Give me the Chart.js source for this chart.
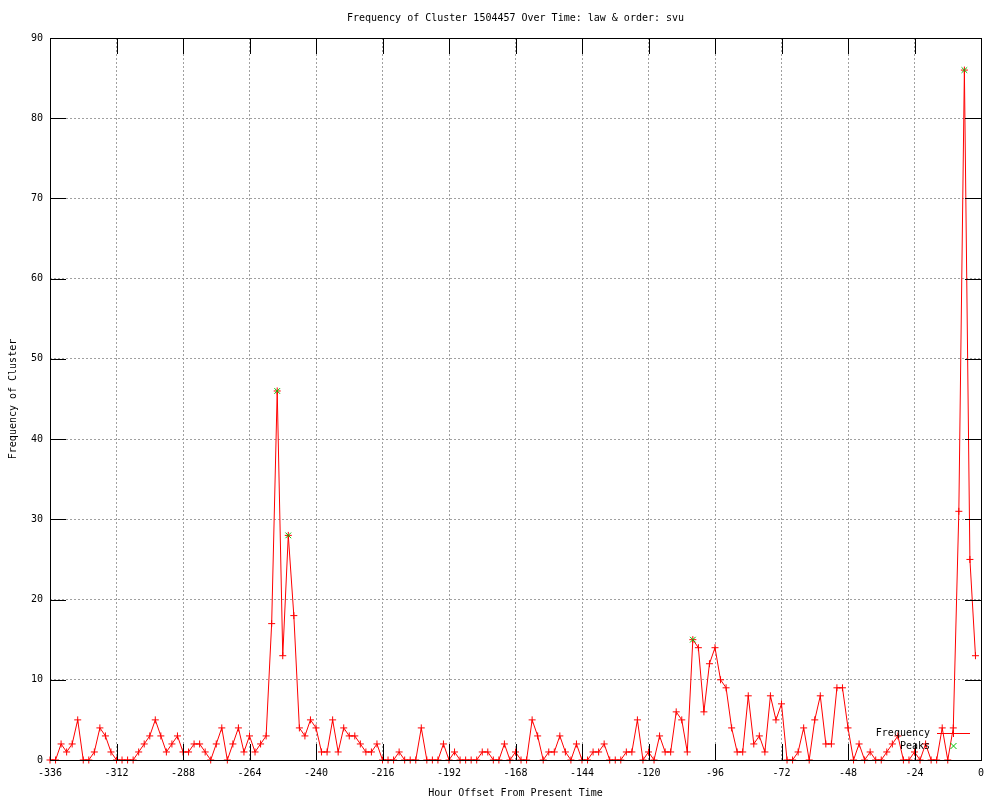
<!DOCTYPE html>
<html>
<head>
<meta charset="utf-8">
<script src="https://cdn.jsdelivr.net/npm/chart.js@4"></script>
<style>
html,body{margin:0;padding:0;background:#fff}
</style>
</head>
<body>
<canvas id="chart" width="1000" height="800"></canvas>
<script>
const titulo="Frequency of Cluster 1504457 Over Time: law & order: svu"
const ejeX="Hour Offset From Present Time"
const ejeY="Frequency of Cluster"

// hour offsets, one sample every 2 hours
const horas=[
-336,-334,-332,-330,-328,-326,-324,-322,-320,-318,-316,-314,-312,-310,-308,-306,-304,-302,-300,-298,
-296,-294,-292,-290,-288,-286,-284,-282,-280,-278,-276,-274,-272,-270,-268,-266,-264,-262,-260,-258,
-256,-254,-252,-250,-248,-246,-244,-242,-240,-238,-236,-234,-232,-230,-228,-226,-224,-222,-220,-218,
-216,-214,-212,-210,-208,-206,-204,-202,-200,-198,-196,-194,-192,-190,-188,-186,-184,-182,-180,-178,
-176,-174,-172,-170,-168,-166,-164,-162,-160,-158,-156,-154,-152,-150,-148,-146,-144,-142,-140,-138,
-136,-134,-132,-130,-128,-126,-124,-122,-120,-118,-116,-114,-112,-110,-108,-106,-104,-102,-100,-98,
-96,-94,-92,-90,-88,-86,-84,-82,-80,-78,-76,-74,-72,-70,-68,-66,-64,-62,-60,-58,
-56,-54,-52,-50,-48,-46,-44,-42,-40,-38,-36,-34,-32,-30,-28,-26,-24,-22,-20,-18,
-16,-14,-12,-10,-8,-6,-4,-2
]

const frecuencia=[
0,0,2,1,2,5,0,0,1,4,3,1,0,0,0,0,1,2,3,5,
3,1,2,3,1,1,2,2,1,0,2,4,0,2,4,1,3,1,2,3,
17,46,13,28,18,4,3,5,4,1,1,5,1,4,3,3,2,1,1,2,
0,0,0,1,0,0,0,4,0,0,0,2,0,1,0,0,0,0,1,1,
0,0,2,0,1,0,0,5,3,0,1,1,3,1,0,2,0,0,1,1,
2,0,0,0,1,1,5,0,1,0,3,1,1,6,5,1,15,14,6,12,
14,10,9,4,1,1,8,2,3,1,8,5,7,0,0,1,4,0,5,8,
2,2,9,9,4,0,2,0,1,0,0,1,2,3,0,0,1,0,2,0,
0,4,0,4,31,86,25,13
]

const picosHoras=[-254,-250,-104,-6]
const picosValores=[46,28,15,86]

const ticksX=[-336,-312,-288,-264,-240,-216,-192,-168,-144,-120,-96,-72,-48,-24,0]
const ticksY=[0,10,20,30,40,50,60,70,80,90]

const fuente="DejaVu Sans Mono"
const rojo="#ff0000"
const verde="#00c000"

const marco={
id:"marco",
afterDatasetsDraw(chart){
const c=chart.ctx
const a=chart.chartArea
const sx=chart.scales.x, sy=chart.scales.y
c.save()
c.strokeStyle="#000"
c.lineWidth=1
c.beginPath()
ticksX.forEach(v=>{
let px=Math.round(sx.getPixelForValue(v))+0.5
c.moveTo(px,a.bottom); c.lineTo(px,a.bottom-16)
c.moveTo(px,a.top); c.lineTo(px,a.top+16)
})
ticksY.forEach(v=>{
let py=Math.round(sy.getPixelForValue(v))+0.5
c.moveTo(a.left,py); c.lineTo(a.left+16,py)
c.moveTo(a.right,py); c.lineTo(a.right-16,py)
})
c.stroke()
c.strokeRect(Math.round(a.left)+0.5,Math.round(a.top)+0.5,Math.round(a.right-a.left),Math.round(a.bottom-a.top))

// title
c.fillStyle="#000"
c.font="10px '"+fuente+"'"
c.textAlign="center"
c.textBaseline="middle"
c.fillText(titulo,(a.left+a.right)/2,18)

// legend, inside bottom right
c.textAlign="right"
c.fillText("Frequency",930,733)
c.fillText("Peaks",930,746)
c.strokeStyle=rojo
c.beginPath()
c.moveTo(937,733.5); c.lineTo(970,733.5)
c.moveTo(953.5,730); c.lineTo(953.5,737)
c.stroke()
c.strokeStyle=verde
c.beginPath()
c.moveTo(950.5,743); c.lineTo(956.5,749)
c.moveTo(956.5,743); c.lineTo(950.5,749)
c.stroke()
c.restore()
}
}

new Chart(document.getElementById("chart"),{
type:"line",
data:{
datasets:[{
label:"Frequency",
data:horas.map((h,i)=>({x:h,y:frecuencia[i]})),
borderColor:rojo,
borderWidth:1,
pointStyle:"cross",
pointRadius:3.5,
pointBorderColor:rojo,
pointBorderWidth:1,
tension:0,
clip:false,
order:2
},{
label:"Peaks",
data:picosHoras.map((h,i)=>({x:h,y:picosValores[i]})),
showLine:false,
pointStyle:"crossRot",
pointRadius:4,
pointBorderColor:verde,
pointBorderWidth:1,
clip:false,
order:1
}]
},
options:{
responsive:false,
animation:false,
layout:{padding:{top:38,right:19,left:0,bottom:0}},
plugins:{legend:{display:false},title:{display:false},tooltip:{enabled:false}},
scales:{
x:{
type:"linear",
min:-336,max:0,
afterBuildTicks:s=>{s.ticks=ticksX.map(v=>({value:v}))},
afterFit:s=>{s.height=40},
grid:{color:"#a0a0a0",drawTicks:false,lineWidth:1},
border:{display:false,dash:[2,2]},
ticks:{color:"#000",padding:7,maxRotation:0,autoSkip:false,font:{family:fuente,size:10},callback:v=>String(v)},
title:{display:true,text:ejeX,color:"#000",font:{family:fuente,size:10},padding:{top:0,bottom:1}}
},
y:{
min:0,max:90,
afterBuildTicks:s=>{s.ticks=ticksY.map(v=>({value:v}))},
afterFit:s=>{s.width=50},
grid:{color:"#a0a0a0",drawTicks:false,lineWidth:1},
border:{display:false,dash:[2,2]},
ticks:{color:"#000",padding:7,font:{family:fuente,size:10},callback:v=>String(v)},
title:{display:true,text:ejeY,color:"#000",font:{family:fuente,size:10},padding:{top:7,bottom:0}}
}
}
},
plugins:[marco]
})
</script>
</body>
</html>
